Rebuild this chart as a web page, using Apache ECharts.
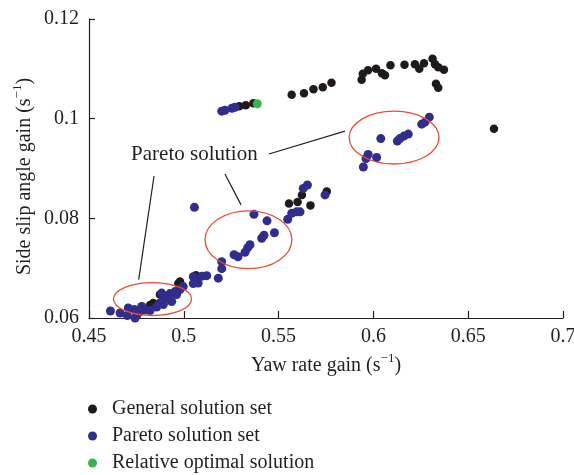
<!DOCTYPE html>
<html>
<head>
<meta charset="utf-8">
<script src="https://cdn.jsdelivr.net/npm/echarts@6/dist/echarts.min.js"></script>
<style>
  html, body { margin: 0; padding: 0; background: #fff; }
  #chart { width: 574px; height: 475px; }
</style>
</head>
<body>
<div id="chart"></div>
<script>
// Yaw rate gain (x) vs. side slip angle gain (y), both in s^-1
const generalSet = [
  [0.5293, 0.1025], [0.5327, 0.1027], [0.5367, 0.1031],
  [0.5569, 0.1048], [0.5634, 0.1051], [0.5684, 0.1059], [0.5733, 0.1063], [0.5779, 0.1072],
  [0.5938, 0.1078], [0.5944, 0.1090], [0.5972, 0.1097], [0.6014, 0.1100], [0.6045, 0.1091],
  [0.6061, 0.1087], [0.6090, 0.1107], [0.6164, 0.1108], [0.6219, 0.1109], [0.6242, 0.1100],
  [0.6267, 0.1111], [0.6312, 0.1120], [0.6325, 0.1109], [0.6342, 0.1103], [0.6372, 0.1098],
  [0.6330, 0.1070], [0.6342, 0.1062], [0.6636, 0.0980],
  [0.4822, 0.0626], [0.4839, 0.0630], [0.4874, 0.0647], [0.4971, 0.0669], [0.4980, 0.0673],
  [0.5064, 0.0686], [0.5555, 0.0830], [0.5600, 0.0833], [0.5623, 0.0847], [0.5668, 0.0826],
  [0.5754, 0.0854]
];

const paretoSet = [
  [0.5200, 0.1015], [0.5217, 0.1017], [0.5254, 0.1021], [0.5270, 0.1023],
  [0.6295, 0.1003], [0.6272, 0.0993], [0.6255, 0.0989], [0.6184, 0.0969], [0.6161, 0.0965],
  [0.6140, 0.0960], [0.6126, 0.0955], [0.6039, 0.0960], [0.5972, 0.0928], [0.5961, 0.0920],
  [0.6017, 0.0922], [0.5947, 0.0903],
  [0.5652, 0.0867], [0.5630, 0.0860], [0.5745, 0.0847], [0.5613, 0.0813], [0.5595, 0.0813],
  [0.5569, 0.0810], [0.5548, 0.0798], [0.5056, 0.0822],
  [0.5370, 0.0808], [0.5439, 0.0795], [0.5478, 0.0771], [0.5423, 0.0766], [0.5411, 0.0760],
  [0.5349, 0.0747], [0.5337, 0.0741], [0.5323, 0.0732], [0.5286, 0.0723], [0.5265, 0.0727],
  [0.5200, 0.0713], [0.5200, 0.0699], [0.5182, 0.0680], [0.5121, 0.0685], [0.5096, 0.0684],
  [0.5050, 0.0683], [0.5076, 0.0670], [0.5050, 0.0669], [0.4997, 0.0663], [0.4980, 0.0657],
  [0.4954, 0.0653], [0.4962, 0.0647], [0.4927, 0.0649], [0.4892, 0.0643], [0.4883, 0.0650],
  [0.4936, 0.0633], [0.4910, 0.0638], [0.4892, 0.0627], [0.4874, 0.0630], [0.4857, 0.0622],
  [0.4822, 0.0615], [0.4795, 0.0616], [0.4778, 0.0623], [0.4769, 0.0613], [0.4739, 0.0617],
  [0.4707, 0.0620], [0.4664, 0.0610], [0.4613, 0.0614], [0.4752, 0.0605], [0.4743, 0.0600],
  [0.4702, 0.0605]
];

const optimalPoint = [[0.5388, 0.1030]];

const seriesNames = ['General solution set', 'Pareto solution set', 'Relative optimal solution'];

const xTicks = { min: 0.45, max: 0.7, step: 0.05 };
const yTicks = { min: 0.06, max: 0.12, step: 0.02 };

// Pareto regions (centre and half-widths in data units) and their callout
const paretoRegions = [
  { x: 0.4835, y: 0.0638, rx: 0.0206, ry: 0.0033 },
  { x: 0.5341, y: 0.0757, rx: 0.0229, ry: 0.0058 },
  { x: 0.6109, y: 0.0962, rx: 0.0237, ry: 0.0053 }
];
const calloutLines = [
  [[0.4843, 0.0885], [0.4762, 0.0677]],
  [[0.5217, 0.0889], [0.5302, 0.0827]],
  [[0.5449, 0.0929], [0.5850, 0.0975]]
];
const calloutText = { text: 'Pareto solution', x: 0.4722, y: 0.0929 };

const INK = '#231f20';
const FONT = '"Liberation Serif", "Times New Roman", serif';
// superscript: top-aligned in a taller line so it sits above the baseline
const sup = { fontSize: 13, verticalAlign: 'top', lineHeight: 13, fontFamily: FONT, color: INK };

const chart = echarts.init(document.getElementById('chart'), null, { renderer: 'canvas' });

chart.setOption({
  animation: false,
  backgroundColor: '#fff',
  grid: { left: 89, right: 11, top: 19, bottom: 157, containLabel: false, outerBoundsMode: 'none' },
  xAxis: {
    type: 'value',
    min: xTicks.min, max: xTicks.max, interval: xTicks.step,
    name: 'Yaw rate gain (s{sup|−1})',
    nameLocation: 'middle',
    nameGap: 33,
    nameTextStyle: { fontFamily: FONT, fontSize: 20, lineHeight: 28, color: INK, rich: { sup } },
    axisLine: { show: true, lineStyle: { color: INK, width: 1.2 } },
    axisTick: { show: true, inside: true, length: 7, lineStyle: { color: INK, width: 1.2 } },
    axisLabel: { fontFamily: FONT, fontSize: 20, color: INK, margin: 9 },
    splitLine: { show: false }
  },
  yAxis: {
    type: 'value',
    min: yTicks.min, max: yTicks.max, interval: yTicks.step,
    name: 'Side slip angle gain (s{sup|−1})',
    nameLocation: 'middle',
    nameGap: 50,
    nameRotate: 90,
    nameMoveOverlap: false,
    nameTextStyle: { fontFamily: FONT, fontSize: 20, lineHeight: 28, color: INK, rich: { sup }, padding: [0, 16, 0, 0] },
    axisLine: { show: true, lineStyle: { color: INK, width: 1.2 } },
    axisTick: { show: true, inside: true, length: 6, lineStyle: { color: INK, width: 1.2 } },
    axisLabel: { fontFamily: FONT, fontSize: 20, color: INK, margin: 10 },
    splitLine: { show: false }
  },
  legend: {
    orient: 'vertical',
    left: 88,
    top: 399,
    padding: 0,
    icon: 'circle',
    itemWidth: 9,
    itemHeight: 9,
    itemGap: 7,
    data: seriesNames,
    textStyle: { fontFamily: FONT, fontSize: 20, color: INK, lineHeight: 20, padding: [0, 0, 0, 10] }
  },
  series: [
    {
      name: seriesNames[0], type: 'scatter', data: generalSet, symbolSize: 8.5, clip: false,
      itemStyle: { color: '#1f1b1c', opacity: 1 }
    },
    {
      name: seriesNames[1], type: 'scatter', data: paretoSet, symbolSize: 9, clip: false,
      itemStyle: { color: '#302d8c', opacity: 1 }
    },
    {
      name: seriesNames[2], type: 'scatter', data: optimalPoint, symbolSize: 9, clip: false,
      itemStyle: { color: '#3bb54a', opacity: 1 }
    }
  ]
});

// Annotation overlay, positioned through the axes' own scales
const toPx = (p) => chart.convertToPixel({ xAxisIndex: 0, yAxisIndex: 0 }, p);
const graphics = [];
paretoRegions.forEach((r) => {
  const c = toPx([r.x, r.y]);
  const ex = toPx([r.x + r.rx, r.y]);
  const ey = toPx([r.x, r.y + r.ry]);
  graphics.push({
    type: 'ellipse',
    shape: { cx: c[0], cy: c[1], rx: Math.abs(ex[0] - c[0]), ry: Math.abs(c[1] - ey[1]) },
    style: { fill: null, stroke: '#ee4b33', lineWidth: 1.3 },
    z: 10
  });
});
calloutLines.forEach((seg) => {
  const a = toPx(seg[0]);
  const b = toPx(seg[1]);
  graphics.push({
    type: 'line',
    shape: { x1: a[0], y1: a[1], x2: b[0], y2: b[1] },
    style: { stroke: INK, lineWidth: 1.2 },
    z: 10
  });
});
const tp = toPx([calloutText.x, calloutText.y]);
graphics.push({
  type: 'text',
  x: tp[0], y: tp[1],
  style: {
    text: calloutText.text,
    font: '21px ' + FONT,
    fill: INK,
    textAlign: 'left',
    textVerticalAlign: 'middle'
  },
  z: 10
});
chart.setOption({ graphic: graphics });
</script>
</body>
</html>
